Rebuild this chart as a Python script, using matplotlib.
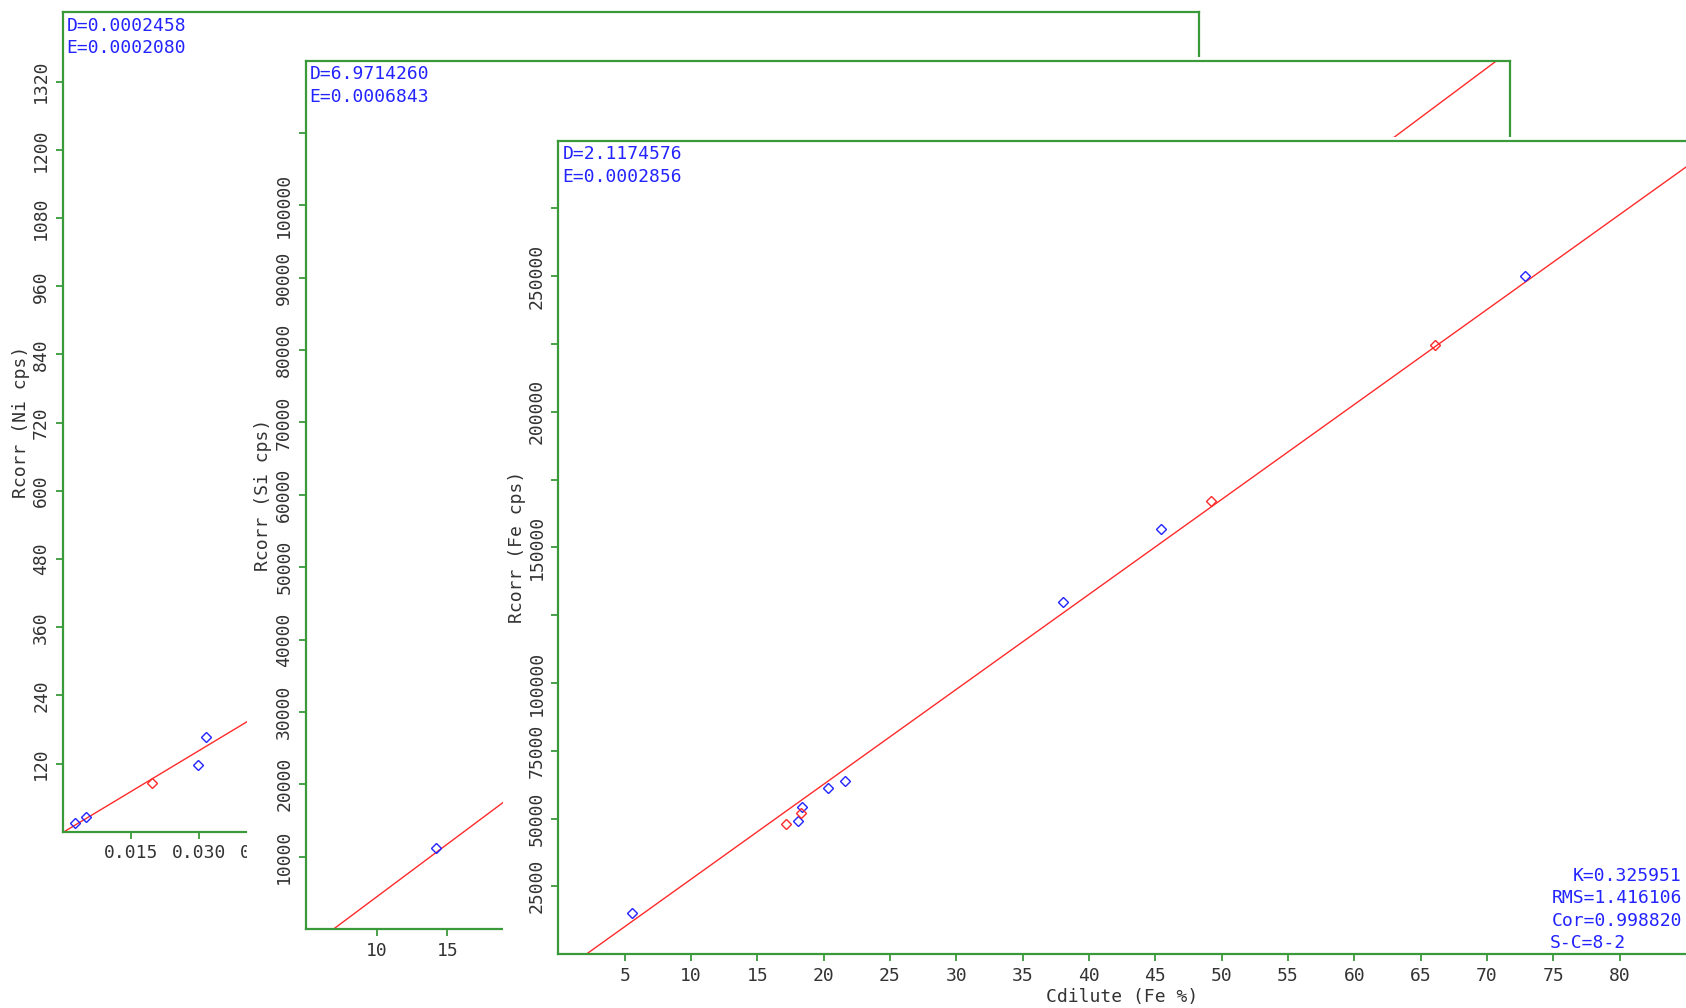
import matplotlib
matplotlib.use("Agg")
import matplotlib.pyplot as plt
from matplotlib.patches import Rectangle
import numpy as np

# ---------------- calibration data ----------------
# Ni
ni_coef = {"D": 0.0002458, "E": 0.0002080}
ni_std_c = [0.0027, 0.0052, 0.0297, 0.0315]
ni_std_r = [14.8, 26.5, 117.7, 167.6]
ni_chk_c = [0.0196]
ni_chk_r = [85.4]

# Si
si_coef = {"D": 6.9714260, "E": 0.0006843}
si_std_c = [14.18]
si_std_r = [11150]

# Fe
fe_coef = {"D": 2.1174576, "E": 0.0002856}
fe_std_c = [5.57, 18.03, 18.34, 20.36, 21.60, 38.07, 45.44, 72.90]
fe_std_r = [15260, 49180, 54120, 61240, 63820, 129900, 156700, 250000]
fe_chk_c = [17.19, 18.26, 49.17, 66.11]
fe_chk_r = [47970, 51910, 167000, 224500]
fe_stats = ["K=0.325951", "RMS=1.416106", "Cor=0.998820", "S-C=8-2"]

# axis ticks
ni_xticks = [0.015 * i for i in range(1, 17)]
ni_yticks = list(range(120, 1321, 120))
si_xticks = list(range(10, 90, 5))
si_yticks = list(range(10000, 110001, 10000))
si_yhidden = [110000]
fe_xticks = list(range(5, 81, 5))
fe_yticks = list(range(25000, 275001, 25000))
fe_yhidden = [125000, 175000, 225000, 275000]

# ---------------- styling ----------------
W, H = 1686, 1008
DPI = 100
GREEN = "#3a9a3a"
BLUE = "#2323ff"
RED = "#ff2a2a"
GREY = "#333333"
FONT = "DejaVu Sans Mono"
FS = 13

plt.rcParams["font.family"] = [FONT, "DejaVu Sans"]

fig = plt.figure(figsize=(W / DPI, H / DPI), dpi=DPI)
fig.patch.set_facecolor("white")


def rect_px(left, top, right, bottom):
    return [left / W, (H - bottom) / H, (right - left) / W, (bottom - top) / H]


def to_axes(ax, x, y):
    return ax.transAxes.inverted().transform((x, H - y))


def style_axes(ax, show_right=True):
    for side in ("left", "top", "bottom", "right"):
        ax.spines[side].set_color(GREEN)
        ax.spines[side].set_linewidth(1.6)
    ax.spines["right"].set_visible(show_right)
    ax.tick_params(direction="out", length=5, width=1.3, color=GREEN,
                   labelcolor=GREY, labelsize=FS, pad=4)
    ax.tick_params(axis="y", labelrotation=90)
    for lab in ax.get_yticklabels():
        lab.set_va("center")


def window(left, top, z):
    fig.add_artist(Rectangle((left / W, 0), 1 - left / W, (H - top) / H,
                             transform=fig.transFigure, facecolor="white",
                             edgecolor="none", zorder=z))


def calib_line(ax, coef, xlim):
    c = np.array(xlim, dtype=float)
    r = (c - coef["D"]) / coef["E"]
    ax.plot(c, r, color=RED, lw=1.0, zorder=2)


def coef_text(ax, coef, x_px, top_px, fmt="{:.7f}"):
    for i, key in enumerate(("D", "E")):
        x, y = to_axes(ax, x_px, top_px + 13.5 + 22.5 * i)
        ax.text(x, y, f"{key}=" + fmt.format(coef[key]), transform=ax.transAxes,
                color=BLUE, fontsize=FS, ha="left", va="center")


def set_ticklabels(ax, axis, ticks, fmt, hidden=()):
    labels = ["" if t in hidden else fmt(t) for t in ticks]
    if axis == "x":
        ax.set_xticks(ticks)
        ax.set_xticklabels(labels)
    else:
        ax.set_yticks(ticks)
        ax.set_yticklabels(labels, rotation=90, va="center")


mk = dict(marker="D", markersize=5.6, markerfacecolor="none",
          markeredgewidth=1.0, linestyle="none", zorder=3)

# ---------------- Ni panel ----------------
ax_ni = fig.add_axes(rect_px(62.7, 12.3, 1198.7, 831.9))
ax_ni.set_zorder(1)
ni_xlim, ni_ylim = (0, 0.25), (0, 1442)
ax_ni.set_xlim(*ni_xlim)
ax_ni.set_ylim(*ni_ylim)
calib_line(ax_ni, ni_coef, ni_xlim)
ax_ni.plot(ni_std_c, ni_std_r, color=BLUE, **mk)
ax_ni.plot(ni_chk_c, ni_chk_r, color=RED, **mk)
set_ticklabels(ax_ni, "x", ni_xticks, lambda t: f"{t:.3f}")
set_ticklabels(ax_ni, "y", ni_yticks, lambda t: f"{t:d}")
style_axes(ax_ni)
ax_ni.set_ylabel("Rcorr (Ni cps)", fontsize=FS, color=GREY, va="center")
ax_ni.yaxis.set_label_coords(*to_axes(ax_ni, 21, 422))
coef_text(ax_ni, ni_coef, 66.5, 12.3)

# ---------------- Si panel ----------------
window(246.7, 56.7, 2)
ax_si = fig.add_axes(rect_px(305.7, 60.7, 1509.6, 929))
ax_si.set_zorder(3)
si_xlim, si_ylim = (5, 90), (0, 120000)
ax_si.set_xlim(*si_xlim)
ax_si.set_ylim(*si_ylim)
calib_line(ax_si, si_coef, si_xlim)
ax_si.plot(si_std_c, si_std_r, color=BLUE, **mk)
set_ticklabels(ax_si, "x", si_xticks, lambda t: f"{t:d}")
set_ticklabels(ax_si, "y", si_yticks, lambda t: f"{t:d}", si_yhidden)
style_axes(ax_si)
ax_si.set_ylabel("Rcorr (Si cps)", fontsize=FS, color=GREY, va="center")
ax_si.yaxis.set_label_coords(*to_axes(ax_si, 262.5, 495))
coef_text(ax_si, si_coef, 309.5, 60.7)

# ---------------- Fe panel ----------------
window(502.7, 136.7, 4)
ax_fe = fig.add_axes(rect_px(558.3, 140.5, 1686, 954.1))
ax_fe.set_zorder(5)
fe_xlim, fe_ylim = (0, 85), (0, 300000)
ax_fe.set_xlim(*fe_xlim)
ax_fe.set_ylim(*fe_ylim)
calib_line(ax_fe, fe_coef, fe_xlim)
ax_fe.plot(fe_std_c, fe_std_r, color=BLUE, **mk)
ax_fe.plot(fe_chk_c, fe_chk_r, color=RED, **mk)
set_ticklabels(ax_fe, "x", fe_xticks, lambda t: f"{t:d}")
set_ticklabels(ax_fe, "y", fe_yticks, lambda t: f"{t:d}", fe_yhidden)
style_axes(ax_fe, show_right=False)
ax_fe.set_ylabel("Rcorr (Fe cps)", fontsize=FS, color=GREY, va="center")
ax_fe.yaxis.set_label_coords(*to_axes(ax_fe, 516.7, 547))
ax_fe.set_xlabel("Cdilute (Fe %)", fontsize=FS, color=GREY, va="center")
ax_fe.xaxis.set_label_coords(*to_axes(ax_fe, 1122, 996.5))
coef_text(ax_fe, fe_coef, 562.3, 140.5)

# fit statistics block
stat_y = [875.7, 898.3, 920.7, 942.7]
for i, (txt, ypx) in enumerate(zip(fe_stats, stat_y)):
    if i < 3:
        x, y = to_axes(ax_fe, 1682, ypx)
        ha = "right"
    else:
        x, y = to_axes(ax_fe, 1549.6, ypx)
        ha = "left"
    ax_fe.text(x, y, txt, transform=ax_fe.transAxes, color=BLUE,
               fontsize=FS, ha=ha, va="center")

fig.savefig("out.png", dpi=DPI, facecolor="white")
